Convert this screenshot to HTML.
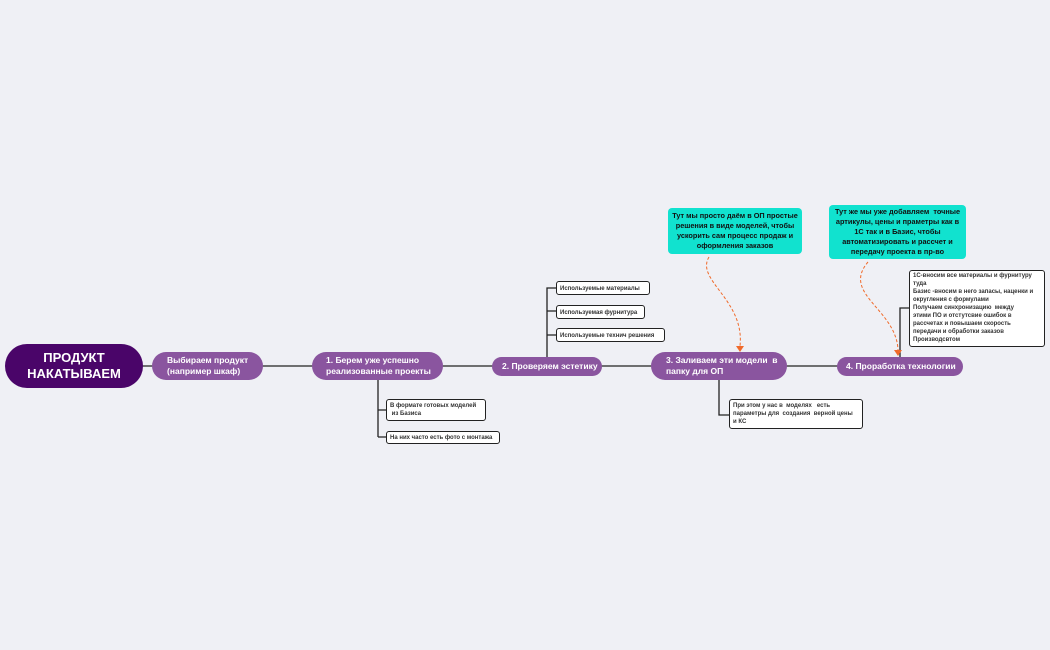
<!DOCTYPE html>
<html><head><meta charset="utf-8"><style>
body{margin:0;width:1050px;height:650px;background:#eff0f5;position:relative;overflow:hidden;font-family:"Liberation Sans","Noto Sans CJK SC",sans-serif;font-weight:bold}
.n{position:absolute;background:#8a559f;color:#fff;border-radius:14px;font-size:8.5px;line-height:11px;box-sizing:border-box;display:flex;align-items:center;white-space:nowrap}
.b{position:absolute;background:#fff;border:1.2px solid #222;border-radius:3px;color:#333;font-size:6px;line-height:8px;box-sizing:border-box;padding:2px 3px;white-space:nowrap;overflow:hidden}
.c{position:absolute;background:#11e2cf;border-radius:4px;color:#111;font-size:7.3px;line-height:10px;text-align:center;box-sizing:border-box;display:flex;align-items:center;justify-content:center;white-space:nowrap}
</style></head><body>
<svg width="1050" height="650" style="position:absolute;left:0;top:0">
<g stroke="#222" stroke-width="1.3" fill="none">
<line x1="140" y1="366" x2="840" y2="366"/>
<path d="M378 380 V437 M378 410 H386 M378 437 H386"/>
<path d="M547 357 V288 H556 M547 311 H556 M547 335 H556"/>
<path d="M719 380 V415 H729"/>
<path d="M900 357 V308 H909"/>
</g>
<g stroke="#f06a2a" stroke-width="1" fill="none" stroke-dasharray="3,2">
<path d="M709 257 C695 280 745 300 740 346"/>
<path d="M868 262 C840 295 900 310 898 354"/>
</g>
<path d="M736 346 L740 352 L744 346Z" fill="#f06a2a"/>
<path d="M894 350 L898 356 L902 350Z" fill="#f06a2a"/>
</svg>
<div class="n" style="left:5px;top:344px;width:138px;height:44px;background:#4a0569;border-radius:22px;font-size:13px;line-height:16px;justify-content:center;text-align:center">ПРОДУКТ<br>НАКАТЫВАЕМ</div>
<div class="n" style="left:152px;top:352px;width:111px;height:28px;padding-left:15px">Выбираем продукт<br>(например шкаф)</div>
<div class="n" style="left:312px;top:352px;width:131px;height:28px;padding-left:14px">1. Берем уже успешно<br>реализованные проекты</div>
<div class="n" style="left:492px;top:357px;width:110px;height:19px;padding-left:10px">2. Проверяем эстетику</div>
<div class="n" style="left:651px;top:352px;width:136px;height:28px;padding-left:15px">3. Заливаем эти модели &nbsp;в<br>папку для ОП</div>
<div class="n" style="left:837px;top:357px;width:126px;height:19px;padding-left:9px">4. Проработка технологии</div>
<div class="b" style="left:386px;top:399px;width:100px;height:22px">В формате готовых моделей<br>&nbsp;из Базиса</div>
<div class="b" style="left:386px;top:431px;width:114px;height:13px;padding-top:1.5px">На них часто есть фото с монтажа</div>
<div class="b" style="left:556px;top:281px;width:94px;height:14px;padding-top:2.5px">Используемые материалы</div>
<div class="b" style="left:556px;top:305px;width:89px;height:14px;padding-top:2.5px">Используемая фурнитура</div>
<div class="b" style="left:556px;top:328px;width:109px;height:14px;padding-top:2.5px">Используемые технич решения</div>
<div class="b" style="left:729px;top:399px;width:134px;height:30px">При этом у нас в &nbsp;моделях &nbsp;&nbsp;есть<br>параметры для &nbsp;создания &nbsp;верной цены<br>и КС</div>
<div class="b" style="left:909px;top:270px;width:136px;height:77px;padding-top:1px">1С-вносим все материалы и фурнитуру<br>туда<br>Базис -вносим в него запасы, наценки и<br>округления с формулами<br>Получаем синхронизацию &nbsp;между<br>этими ПО и отстутсвие ошибок в<br>рассчетах и повышаем скорость<br>передачи и обработки заказов<br>Производсвтом</div>
<div class="c" style="left:668px;top:208px;width:134px;height:46px">Тут мы просто даём в ОП простые<br>решения в виде моделей, чтобы<br>ускорить сам процесс продаж и<br>оформления заказов</div>
<div class="c" style="left:829px;top:205px;width:137px;height:54px">Тут же мы уже добавляем &nbsp;точные<br>артикулы, цены и праметры как в<br>1С так и в Базис, чтобы<br>автоматизировать и рассчет и<br>передачу проекта в пр-во</div>
</body></html>
